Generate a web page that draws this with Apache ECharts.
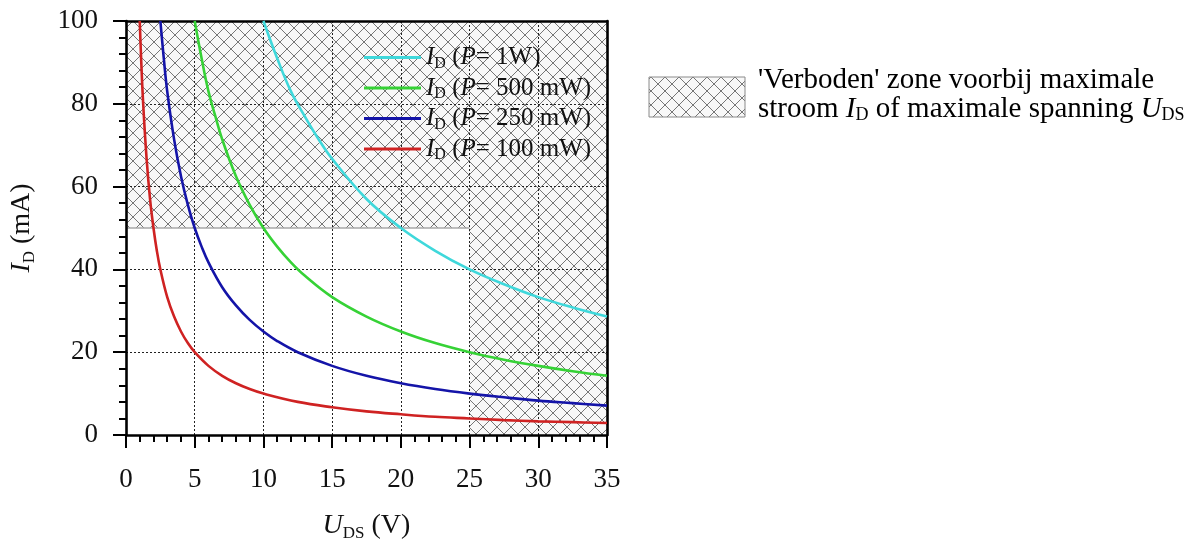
<!DOCTYPE html>
<html>
<head>
<meta charset="utf-8">
<script src="https://cdn.jsdelivr.net/npm/echarts@6/dist/echarts.min.js"></script>
<style>
  html, body { margin: 0; padding: 0; background: #fff; }
  #chart { width: 1198px; height: 542px; }
</style>
</head>
<body>
<div id="chart"></div>
<script>
// --- data ---
const powerNames = ['1W', '500 mW', '250 mW', '100 mW']
const lineColors = ['#3fd8db', '#36d236', '#1414a8', '#cf2222']

const uds1W = [10, 11, 12, 13, 14, 15, 17.5, 20, 22.5, 25, 27.5, 30, 32.5, 35]
const id1W = [100, 91, 83, 77, 71.5, 66.7, 57, 50, 44.5, 40, 36.4, 33.3, 30.8, 28.6]

const uds500 = [5, 5.5, 6, 6.5, 7, 8, 9, 10, 11, 12, 13, 15, 17.5, 20, 22.5, 25, 27.5, 30, 32.5, 35]
const id500 = [100, 91, 83, 77, 71.4, 62.5, 55.6, 50, 45.5, 41.7, 38.5, 33.3, 28.6, 25, 22.2, 20, 18.2, 16.7, 15.4, 14.3]

const uds250 = [2.5, 2.75, 3, 3.5, 4, 4.5, 5, 5.5, 6, 7, 8, 9, 10, 11, 12.5, 15, 17.5, 20, 22.5, 25, 27.5, 30, 32.5, 35]
const id250 = [100, 91, 83, 71.4, 62.5, 55.6, 50, 45.5, 41.7, 35.7, 31.3, 27.8, 25, 22.7, 20, 16.7, 14.3, 12.5, 11.1, 10, 9.1, 8.3, 7.7, 7.1]

const uds100 = [1, 1.1, 1.25, 1.5, 1.75, 2, 2.25, 2.5, 3, 3.5, 4, 4.5, 5, 6, 7, 8, 9, 10, 12.5, 15, 17.5, 20, 22.5, 25, 27.5, 30, 32.5, 35]
const id100 = [100, 91, 80, 66.7, 57, 50, 44.4, 40, 33.3, 28.6, 25, 22.2, 20, 16.7, 14.3, 12.5, 11.1, 10, 8, 6.7, 5.7, 5, 4.4, 4, 3.6, 3.3, 3.1, 2.9]

// verboden zone: boven max stroom, rechts van max spanning
const maxCurrent = 50
const maxVoltage = 25

const curveX = [uds1W, uds500, uds250, uds100]
const curveY = [id1W, id500, id250, id100]

// --- hatch pattern ---
const T = 14
const hatch = document.createElement('canvas')
hatch.width = T
hatch.height = T
const hctx = hatch.getContext('2d')
hctx.fillStyle = '#f8f8f8'
hctx.fillRect(0, 0, T, T)
hctx.strokeStyle = '#767676'
hctx.lineWidth = 1
hctx.beginPath()
hctx.moveTo(-1, -1); hctx.lineTo(T + 1, T + 1)
hctx.moveTo(T + 1, -1); hctx.lineTo(-1, T + 1)
hctx.stroke()
const hatchFill = { image: hatch, repeat: 'repeat' }

const FONT = 'Liberation Serif'

const rich = (size, lh) => ({
  n: { fontFamily: FONT, fontSize: size, color: '#111', lineHeight: lh },
  i: { fontFamily: FONT, fontSize: size, color: '#111', fontStyle: 'italic', lineHeight: lh },
  s: { fontFamily: FONT, fontSize: Math.round(size * 0.62), color: '#111', verticalAlign: 'bottom', lineHeight: Math.round(size * 0.62) }
})

const labelName = (p) => `{i|I}{s|D}{n| (}{i|P}{n|= ${p})}`

const chart = echarts.init(document.getElementById('chart'))

const lineSeries = powerNames.map((p, k) => ({
  name: p,
  type: 'line',
  z: 10,
  smooth: 0.4,
  symbol: 'none',
  data: curveX[k].map((x, j) => [x, curveY[k][j]]),
  lineStyle: { color: lineColors[k], width: 2.6 },
  itemStyle: { color: lineColors[k] }
}))

const axisCommon = {
  type: 'value',
  z: 5,
  axisLine: { show: true, onZero: false, lineStyle: { color: '#000', width: 2.6 } }
}

chart.setOption({
  animation: false,
  grid: { left: 126, right: 591, top: 21, bottom: 107, containLabel: false, outerBoundsMode: 'none' },
  legend: {
    data: powerNames,
    orient: 'vertical',
    left: 359,
    top: 40,
    z: 20,
    itemWidth: 57,
    itemHeight: 3,
    itemGap: 4,
    icon: 'rect',
    formatter: (name) => labelName(name),
    textStyle: { fontFamily: FONT, fontSize: 25, color: '#111', rich: rich(25, 28) }
  },
  xAxis: [
    {
      ...axisCommon,
      min: 0,
      max: 35,
      interval: 5,
      axisTick: { show: true, inside: false, length: 13, lineStyle: { color: '#000', width: 2 } },
      minorTick: { show: true, splitNumber: 5, length: 7, lineStyle: { color: '#000', width: 2 } },
      axisLabel: { margin: 31, fontFamily: FONT, fontSize: 27, color: '#111' },
      splitLine: { show: true, lineStyle: { color: '#222', type: [2, 2], width: 1 } },
      name: '{i|U}{s|DS}{n| (V)}',
      nameLocation: 'middle',
      nameGap: 75,
      nameTextStyle: { rich: rich(28, 32) }
    },
    {
      ...axisCommon,
      position: 'top',
      min: 0,
      max: 35,
      axisTick: { show: false },
      axisLabel: { show: false },
      splitLine: { show: false }
    }
  ],
  yAxis: [
    {
      ...axisCommon,
      min: 0,
      max: 100,
      interval: 20,
      axisTick: { show: true, inside: false, length: 13, lineStyle: { color: '#000', width: 2 } },
      minorTick: { show: true, splitNumber: 5, length: 7, lineStyle: { color: '#000', width: 2 } },
      axisLabel: { margin: 28, fontFamily: FONT, fontSize: 27, color: '#111' },
      splitLine: { show: true, lineStyle: { color: '#222', type: [2, 2], width: 1 } },
      name: '{i|I}{s|D}{n| (mA)}',
      nameLocation: 'middle',
      nameGap: 88,
      nameTextStyle: { rich: rich(28, 32) }
    },
    {
      ...axisCommon,
      position: 'right',
      min: 0,
      max: 100,
      axisTick: { show: false },
      axisLabel: { show: false },
      splitLine: { show: false }
    }
  ],
  series: [
    {
      name: 'zone',
      type: 'line',
      z: 1,
      data: [],
      markArea: {
        silent: true,
        itemStyle: { color: hatchFill, borderWidth: 0 },
        data: [
          [{ xAxis: 0, yAxis: maxCurrent }, { xAxis: maxVoltage, yAxis: 100 }],
          [{ xAxis: maxVoltage, yAxis: 0 }, { xAxis: 35, yAxis: 100 }]
        ]
      },
      markLine: {
        silent: true,
        symbol: 'none',
        label: { show: false },
        lineStyle: { color: '#a8a8a8', type: 'solid', width: 1.6 },
        data: [[{ coord: [0, maxCurrent] }, { coord: [maxVoltage, maxCurrent] }]]
      }
    },
    ...lineSeries
  ],
  graphic: [
    {
      type: 'rect',
      shape: { x: 649, y: 77, width: 96, height: 40 },
      style: { fill: hatchFill, stroke: '#8a8a8a', lineWidth: 1 }
    },
    {
      type: 'text',
      left: 758,
      top: 66,
      style: {
        text: "{n|'Verboden' zone voorbij maximale}\n{n|stroom }{i|I}{s|D}{n| of maximale spanning }{i|U}{s|DS}",
        rich: rich(29, 29)
      }
    }
  ]
})
</script>
</body>
</html>
